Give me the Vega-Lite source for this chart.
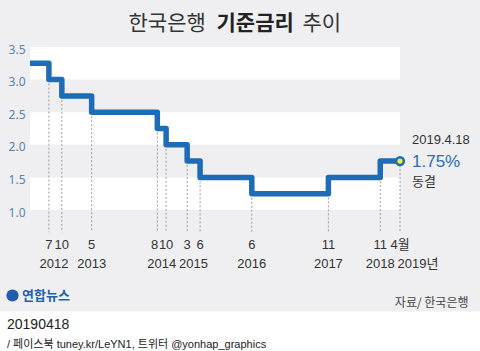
{
  "$schema": "https://vega.github.io/schema/vega-lite/v6.json",
  "width": 370,
  "height": 163,
  "autosize": {"type": "none"},
  "padding": {"left": 30, "top": 47, "right": 80, "bottom": 141},
  "background": "#efeff1",
  "config": {
    "view": {"stroke": null},
    "font": "Noto Sans CJK KR"
  },
  "title": {
    "text": "20190418",
    "subtitle": "/ 페이스북 tuney.kr/LeYN1, 트위터 @yonhap_graphics",
    "orient": "top",
    "anchor": "start",
    "frame": "group",
    "dx": -23,
    "offset": -338,
    "font": "Liberation Sans, Noto Sans CJK KR",
    "fontSize": 14,
    "fontWeight": "normal",
    "color": "#222222",
    "subtitleFont": "Liberation Sans, Noto Sans CJK KR",
    "subtitleFontSize": 11,
    "subtitleColor": "#222222",
    "subtitlePadding": 7
  },
  "datasets": {
    "rates": [
      {"date": "2012-03-01", "rate": 3.25},
      {"date": "2012-07-12", "rate": 3.0, "month": "7"},
      {"date": "2012-10-11", "rate": 2.75, "month": "10"},
      {"date": "2013-05-09", "rate": 2.5, "month": "5"},
      {"date": "2014-08-14", "rate": 2.25, "month": "8"},
      {"date": "2014-10-15", "rate": 2.0, "month": "10"},
      {"date": "2015-03-12", "rate": 1.75, "month": "3"},
      {"date": "2015-06-11", "rate": 1.5, "month": "6"},
      {"date": "2016-06-09", "rate": 1.25, "month": "6"},
      {"date": "2017-11-30", "rate": 1.5, "month": "11"},
      {"date": "2018-11-30", "rate": 1.75, "month": "11"},
      {"date": "2019-04-18", "rate": 1.75, "month": "4월"}
    ],
    "bands": [
      {"lo": 3.0, "hi": 3.5},
      {"lo": 2.0, "hi": 2.5},
      {"lo": 1.0, "hi": 1.5}
    ],
    "years": [
      {"date": "2012-08-17", "year": "2012"},
      {"date": "2013-05-09", "year": "2013"},
      {"date": "2014-09-14", "year": "2014"},
      {"date": "2015-04-26", "year": "2015"},
      {"date": "2016-06-09", "year": "2016"},
      {"date": "2017-11-30", "year": "2017"},
      {"date": "2018-11-30", "year": "2018"},
      {"date": "2019-08-22", "year": "2019년"}
    ],
    "latest": [
      {"date": "2019-04-18", "rate": 1.75, "day": "2019.4.18", "pct": "1.75%", "note": "동결"}
    ]
  },
  "layer": [
    {
      "data": {"name": "bands"},
      "mark": {"type": "rect", "color": "#ffffff"},
      "encoding": {
        "y": {
          "field": "lo", "type": "quantitative",
          "scale": {"domain": [1, 3.5], "nice": false, "zero": false},
          "axis": {
            "values": [1, 1.5, 2, 2.5, 3, 3.5], "format": ".1f",
            "ticks": false, "domain": false, "grid": false,
            "labelColor": "#5b82ad", "labelFontSize": 12, "labelFont": "Noto Sans",
            "labelPadding": 5, "labelOffset": 2,
            "title": "한국은행", "titleAngle": 0, "titleX": 98, "titleY": -24,
            "titleAlign": "left", "titleBaseline": "middle", "titleFontSize": 21,
            "titleFontWeight": "normal", "titleColor": "#333333", "titleFont": "Noto Sans CJK KR"
          }
        },
        "y2": {"field": "hi"}
      }
    },
    {
      "data": {"name": "rates"},
      "transform": [{"filter": "datum.month"}],
      "mark": {"type": "rule", "strokeDash": [2, 2], "color": "#9c9c9c", "strokeWidth": 1},
      "encoding": {
        "x": {
          "field": "date", "type": "temporal",
          "scale": {"domain": [{"year": 2012, "month": 3, "date": 1}, {"year": 2019, "month": 4, "date": 18}]},
          "axis": {
            "orient": "bottom", "labels": false, "domain": false, "grid": false,
            "values": [{"year": 2016, "month": 3, "date": 17}],
            "ticks": true, "tickSize": 40, "tickWidth": 500, "tickColor": "#ffffff",
            "tickCap": "butt", "tickOpacity": 1, "offset": 101,
            "title": "자료/ 한국은행", "titleX": 438, "titleY": -9, "titleAlign": "right",
            "titleBaseline": "middle", "titleFontSize": 12, "titleFontWeight": "normal",
            "titleColor": "#444444", "titleFont": "Noto Sans CJK KR"
          }
        },
        "y": {
          "field": "rate", "type": "quantitative",
          "scale": {"domain": [1, 3.5], "nice": false, "zero": false},
          "axis": {
            "orient": "right", "labels": false, "ticks": false, "domain": false, "grid": false,
            "title": "추이", "titleAngle": 0, "titleX": -98, "titleY": -24,
            "titleAlign": "left", "titleBaseline": "middle", "titleFontSize": 21,
            "titleFontWeight": "normal", "titleColor": "#333333", "titleFont": "Noto Sans CJK KR"
          }
        },
        "y2": {"datum": 0.66}
      }
    },
    {
      "data": {"name": "rates"},
      "mark": {"type": "line", "interpolate": "step-after", "strokeWidth": 5.5, "strokeJoin": "round"},
      "encoding": {
        "x": {
          "field": "date", "type": "temporal",
          "scale": {"domain": [{"year": 2012, "month": 3, "date": 1}, {"year": 2019, "month": 4, "date": 18}]},
          "axis": {
            "orient": "top", "labels": false, "ticks": false, "domain": false, "grid": false,
            "title": "기준금리", "titleX": 186, "titleY": -24, "titleAlign": "left",
            "titleBaseline": "middle", "titleFontSize": 21, "titleFontWeight": "bold",
            "titleColor": "#222222", "titleFont": "Noto Sans CJK KR"
          }
        },
        "y": {
          "field": "rate", "type": "quantitative",
          "scale": {"domain": [1, 3.5], "nice": false, "zero": false},
          "axis": null
        },
        "color": {
          "datum": "연합뉴스",
          "scale": {"range": ["#1d6cb5"]},
          "legend": {
            "orient": "none", "legendX": -24, "legendY": 242, "title": null,
            "symbolType": "circle", "symbolSize": 150, "symbolFillColor": "#1f5fae",
            "symbolStrokeWidth": 0, "labelFontSize": 13, "labelFontWeight": "bold",
            "labelColor": "#1f5fae", "labelFont": "Noto Sans CJK KR", "padding": 0, "labelOffset": 3
          }
        }
      }
    },
    {
      "data": {"name": "latest"},
      "mark": {"type": "circle", "size": 60, "fill": "#f3e845", "stroke": "#1d6cb5", "strokeWidth": 2.5, "opacity": 1},
      "encoding": {
        "x": {"field": "date", "type": "temporal", "scale": {"domain": [{"year": 2012, "month": 3, "date": 1}, {"year": 2019, "month": 4, "date": 18}]}, "axis": null},
        "y": {"field": "rate", "type": "quantitative", "scale": {"domain": [1, 3.5], "nice": false, "zero": false}, "axis": null}
      }
    },
    {
      "data": {"name": "rates"},
      "transform": [{"filter": "datum.month && datum.month != '8'"}],
      "mark": {"type": "text", "font": "Liberation Sans, Noto Sans CJK KR", "fontSize": 13, "color": "#333333", "dy": 35, "baseline": "middle", "align": "center"},
      "encoding": {
        "x": {"field": "date", "type": "temporal", "scale": {"domain": [{"year": 2012, "month": 3, "date": 1}, {"year": 2019, "month": 4, "date": 18}]}, "axis": null},
        "y": {"datum": 1, "type": "quantitative", "scale": {"domain": [1, 3.5], "nice": false, "zero": false}, "axis": null},
        "text": {"field": "month"}
      }
    },
    {
      "data": {"name": "rates"},
      "transform": [{"filter": "datum.month == '8'"}],
      "mark": {"type": "text", "font": "Liberation Sans, Noto Sans CJK KR", "fontSize": 13, "color": "#333333", "dy": 35, "dx": 1, "baseline": "middle", "align": "right"},
      "encoding": {
        "x": {"field": "date", "type": "temporal", "scale": {"domain": [{"year": 2012, "month": 3, "date": 1}, {"year": 2019, "month": 4, "date": 18}]}, "axis": null},
        "y": {"datum": 1, "type": "quantitative", "scale": {"domain": [1, 3.5], "nice": false, "zero": false}, "axis": null},
        "text": {"field": "month"}
      }
    },
    {
      "data": {"name": "years"},
      "mark": {"type": "text", "font": "Liberation Sans, Noto Sans CJK KR", "fontSize": 13, "color": "#333333", "dy": 54, "baseline": "middle", "align": "center"},
      "encoding": {
        "x": {"field": "date", "type": "temporal", "scale": {"domain": [{"year": 2012, "month": 3, "date": 1}, {"year": 2019, "month": 4, "date": 18}]}, "axis": null},
        "y": {"datum": 1, "type": "quantitative", "scale": {"domain": [1, 3.5], "nice": false, "zero": false}, "axis": null},
        "text": {"field": "year"}
      }
    },
    {
      "data": {"name": "latest"},
      "mark": {"type": "text", "font": "Liberation Sans", "fontSize": 13, "color": "#333333", "dx": 12, "dy": -21, "baseline": "middle", "align": "left"},
      "encoding": {
        "x": {"field": "date", "type": "temporal", "scale": {"domain": [{"year": 2012, "month": 3, "date": 1}, {"year": 2019, "month": 4, "date": 18}]}, "axis": null},
        "y": {"field": "rate", "type": "quantitative", "scale": {"domain": [1, 3.5], "nice": false, "zero": false}, "axis": null},
        "text": {"field": "day"}
      }
    },
    {
      "data": {"name": "latest"},
      "mark": {"type": "text", "font": "Liberation Sans", "fontSize": 17, "color": "#2a6db5", "dx": 12, "dy": 1, "baseline": "middle", "align": "left"},
      "encoding": {
        "x": {"field": "date", "type": "temporal", "scale": {"domain": [{"year": 2012, "month": 3, "date": 1}, {"year": 2019, "month": 4, "date": 18}]}, "axis": null},
        "y": {"field": "rate", "type": "quantitative", "scale": {"domain": [1, 3.5], "nice": false, "zero": false}, "axis": null},
        "text": {"field": "pct"}
      }
    },
    {
      "data": {"name": "latest"},
      "mark": {"type": "text", "font": "Noto Sans CJK KR", "fontSize": 13, "color": "#333333", "dx": 12, "dy": 21, "baseline": "middle", "align": "left"},
      "encoding": {
        "x": {"field": "date", "type": "temporal", "scale": {"domain": [{"year": 2012, "month": 3, "date": 1}, {"year": 2019, "month": 4, "date": 18}]}, "axis": null},
        "y": {"field": "rate", "type": "quantitative", "scale": {"domain": [1, 3.5], "nice": false, "zero": false}, "axis": null},
        "text": {"field": "note"}
      }
    }
  ],
  "resolve": {"axis": {"x": "independent", "y": "independent"}}
}
